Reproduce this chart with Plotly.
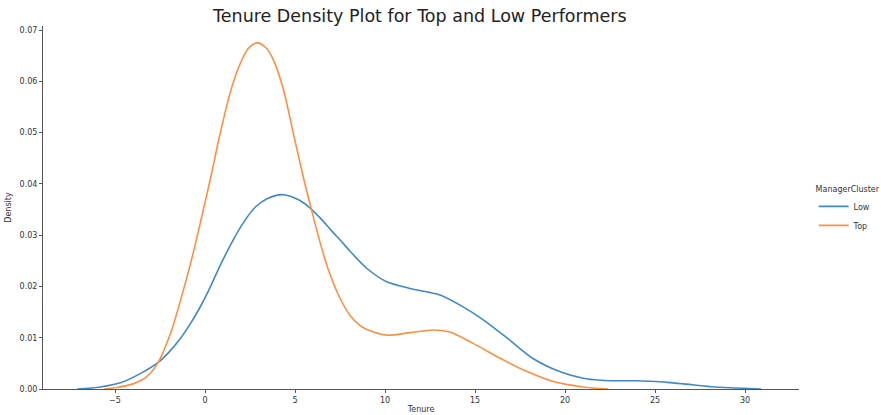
import plotly.graph_objects as go

# ManagerCluster = Low
low_x = [-7.1, -5.8, -4.7, -3.6, -2.6, -2.0, -1.4, -0.8, -0.3, 0.2, 0.9, 1.6, 2.2, 2.8,
         3.45, 4.35, 5.25, 5.9, 6.55, 7.1, 7.5, 8.05, 9.0, 10.1, 11.4, 12.4, 13.1, 14.2,
         15.5, 16.8, 18.2, 19.7, 21.0, 22.0, 23.0, 24.0, 24.7, 25.7, 26.6, 28.1, 29.5, 30.9]
low_y = [0.0, 0.0004, 0.0012, 0.003, 0.0052, 0.0072, 0.0097, 0.0128, 0.0158, 0.0192,
         0.0245, 0.0293, 0.0328, 0.0355, 0.0371, 0.0379, 0.0368, 0.0351, 0.0328, 0.0306,
         0.0291, 0.0269, 0.0235, 0.0209, 0.0196, 0.0189, 0.0183, 0.0163, 0.0134, 0.0099,
         0.0060, 0.0034, 0.0021, 0.0017, 0.0016, 0.0016, 0.0015, 0.0013, 0.0010, 0.00045,
         0.0002, 0.0]

# ManagerCluster = Top
top_x = [-5.6, -4.9, -4.0, -3.3, -2.6, -1.9, -1.4, -0.8, -0.3, 0.3, 0.8, 1.4, 1.9, 2.4,
         2.9, 3.4, 3.8, 4.35, 4.9, 5.45, 5.95, 6.4, 6.9, 7.5, 8.05, 8.6, 9.0, 10.1, 11.4,
         12.7, 13.6, 14.9, 16.4, 17.9, 19.4, 21.0, 22.4]
top_y = [0.0, 0.0003, 0.0010, 0.0022, 0.0052, 0.0110, 0.0168, 0.0245, 0.0318, 0.0410,
         0.0492, 0.0578, 0.0630, 0.0664, 0.0675, 0.0665, 0.0642, 0.0585, 0.0500, 0.0415,
         0.0345, 0.0285, 0.0228, 0.0177, 0.0144, 0.0124, 0.0116, 0.0105, 0.0110, 0.0115,
         0.0111, 0.0089, 0.0060, 0.0034, 0.0014, 0.0004, 0.0]

x_ticks = [-5, 0, 5, 10, 15, 20, 25, 30]
y_ticks = [0.0, 0.01, 0.02, 0.03, 0.04, 0.05, 0.06, 0.07]

FONT = "DejaVu Sans"

fig = go.Figure()
fig.add_trace(go.Scatter(x=low_x, y=low_y, mode="lines", name="Low",
                         line=dict(color="#4189c4", width=1.6, shape="spline", smoothing=0.8)))
fig.add_trace(go.Scatter(x=top_x, y=top_y, mode="lines", name="Top",
                         line=dict(color="#fd9040", width=1.6, shape="spline", smoothing=0.8)))

axis_common = dict(showgrid=False, zeroline=False, showline=True, linecolor="#555555",
                   linewidth=1, ticks="outside", ticklen=3, tickcolor="#555555",
                   automargin=False,
                   tickfont=dict(family=FONT, size=8, color="#333333"))

fig.update_layout(
    width=881, height=415,
    margin=dict(l=43, r=82, t=26, b=26),
    paper_bgcolor="white", plot_bgcolor="white",
    title=dict(text="Tenure Density Plot for Top and Low Performers",
               font=dict(family=FONT, size=17.5, color="#222222"),
               x=0.4765, xanchor="center", y=0.962, yanchor="middle"),
    xaxis=dict(range=[-9.0, 33.0], tickvals=x_ticks,
               tickformat="d",
               title=dict(text="Tenure", font=dict(family=FONT, size=8, color="#333333"), standoff=2),
               **axis_common),
    yaxis=dict(range=[0, 0.0708], tickvals=y_ticks, tickformat=".2f",
               title=dict(text="Density", font=dict(family=FONT, size=8, color="#333333"), standoff=6),
               **axis_common),
    legend=dict(title=dict(text="ManagerCluster", font=dict(family=FONT, size=8, color="#333333")),
                font=dict(family=FONT, size=8, color="#333333"),
                xref="container", yref="container",
                x=0.9235, xanchor="left", y=0.4916, yanchor="middle",
                bgcolor="rgba(0,0,0,0)", borderwidth=0, itemwidth=30, tracegroupgap=0),
    showlegend=True,
)

fig.write_html("out.html", config={"displayModeBar": False},
               post_script="document.body.style.margin='0px';")
